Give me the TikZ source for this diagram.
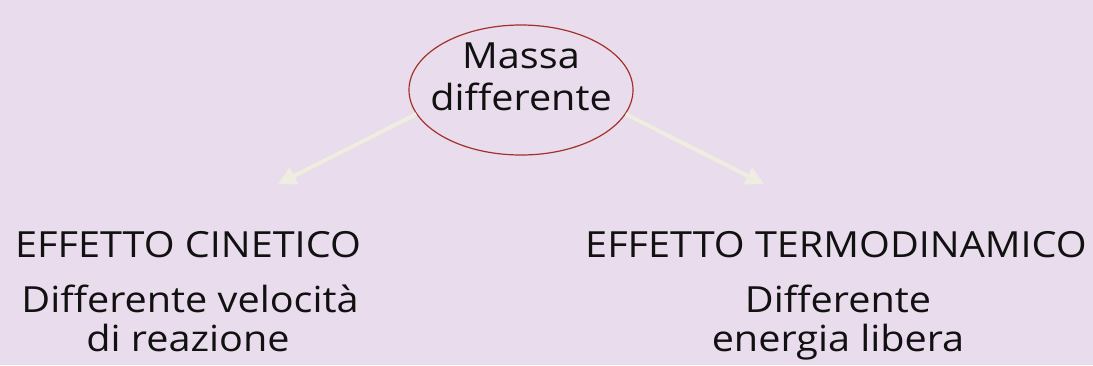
\documentclass[tikz,border=0pt]{standalone}
\usepackage{fontspec}
\setmainfont[FakeStretch=1.1]{Open Sans}
\usetikzlibrary{arrows.meta,shapes.geometric}
\definecolor{bgc}{HTML}{E9DCEC}
\definecolor{ellc}{HTML}{A23228}
\definecolor{arrc}{HTML}{EFEDE2}
\definecolor{txtc}{HTML}{111111}
\tikzset{
  lbl/.style={text=txtc, inner sep=0pt, anchor=base, font=\fontsize{36}{42}\selectfont},
  sub/.style={text=txtc, inner sep=0pt, anchor=base, font=\fontsize{36}{42}\selectfont},
  conn/.style={draw=arrc, line width=4pt, -{Triangle[length=18pt,width=18pt]}},
}
\begin{document}
\begin{tikzpicture}[x=1pt,y=-1pt]
\fill[bgc] (0,0) rectangle (1093,365);
\useasboundingbox (0,0) rectangle (1093,365);
\node[ellipse, draw=ellc, line width=1.2pt, minimum width=224pt, minimum height=130pt] (top) at (521,90) {};
\node[lbl] (m1) at (521,68) {Massa};
\node[lbl] (m2) at (521,110) {differente};
\node[lbl] (k1) at (188,257) {EFFETTO CINETICO};
\node[sub] (k2) at (190,312) {Differente velocità};
\node[sub] (k3) at (188,351) {di reazione};
\node[lbl] (t1) at (836,257) {EFFETTO TERMODINAMICO};
\node[sub] (t2) at (838,312) {Differente};
\node[sub] (t3) at (838,351) {energia libera};
\coordinate (la) at (278,184);
\coordinate (ra) at (764,184);
\draw[conn] (top.-167) -- (la);
\draw[conn] (top.-13) -- (ra);
\end{tikzpicture}
\end{document}
